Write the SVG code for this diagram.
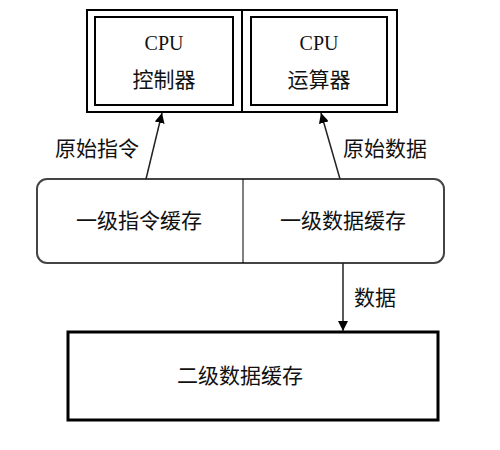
<svg xmlns="http://www.w3.org/2000/svg" width="500" height="450" viewBox="0 0 500 450">
<style>
.box{fill:none;stroke:#000;stroke-width:2}
.cj{font-family:"Noto Sans CJK SC","Noto Sans",sans-serif;font-size:21px;fill:#111;text-anchor:middle}
.lat{font-family:"Liberation Serif",serif;font-size:20px;fill:#111;text-anchor:middle}
.conn{stroke:#222;stroke-width:1.5;fill:none}
</style>
<defs>
<marker id="ah" viewBox="0 0 10 10" refX="10" refY="5" markerWidth="10" markerHeight="10" markerUnits="userSpaceOnUse" orient="auto">
<path d="M0,0 L10,5 L0,10 Z" fill="#000"/>
</marker>
</defs>
<rect width="500" height="450" fill="#fff"/>
<g id="cpu">
<rect class="box" x="87" y="10" width="310" height="102"/>
<line x1="242" y1="10" x2="242" y2="112" stroke="#000" stroke-width="2"/>
</g>
<g id="controller">
<rect class="box" x="95" y="17" width="138" height="88"/>
<text class="lat" x="164" y="50">CPU</text>
<text class="cj" x="164" y="87">控制器</text>
</g>
<g id="alu">
<rect class="box" x="251" y="17" width="136" height="88"/>
<text class="lat" x="319" y="50">CPU</text>
<text class="cj" x="319" y="87">运算器</text>
</g>
<g id="l1">
<rect x="37" y="179" width="407" height="84" rx="10" ry="10" fill="none" stroke="#444" stroke-width="2"/>
<line x1="243" y1="179" x2="243" y2="263" stroke="#000" stroke-width="1"/>
</g>
<g id="l1i">
<text class="cj" x="139" y="228">一级指令缓存</text>
</g>
<g id="l1d">
<text class="cj" x="343" y="228">一级数据缓存</text>
</g>
<g id="l2">
<rect x="68" y="332" width="370" height="88" fill="none" stroke="#000" stroke-width="3"/>
<text class="cj" x="240" y="383">二级数据缓存</text>
</g>
<g id="connectors">
<line class="conn" x1="146" y1="179" x2="162" y2="113" marker-end="url(#ah)"/>
<line class="conn" x1="340" y1="179" x2="321" y2="113" marker-end="url(#ah)"/>
<line class="conn" x1="343" y1="263" x2="343" y2="331" marker-end="url(#ah)"/>
<text class="cj" x="97" y="156">原始指令</text>
<text class="cj" x="385" y="156">原始数据</text>
<text class="cj" x="375" y="305">数据</text>
</g>
</svg>
